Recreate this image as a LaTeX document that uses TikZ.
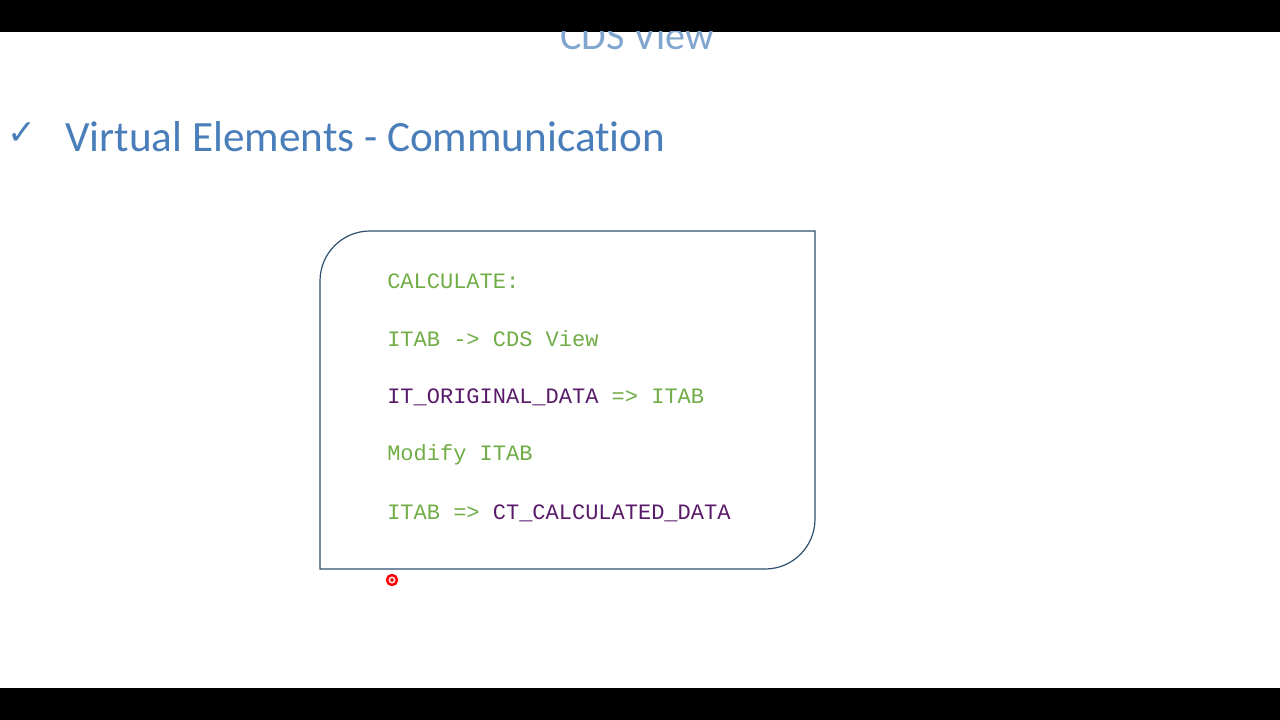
\documentclass[tikz,border=0pt]{standalone}
\usepackage{fontspec}
\setmainfont[Ligatures=NoCommon]{Carlito}
\newfontfamily\codefont{Liberation Mono}
\newfontfamily\symfont{DejaVu Sans}
\definecolor{titleblue}{HTML}{4A7EBB}
\definecolor{codegreen}{HTML}{70AD47}
\definecolor{codepurple}{HTML}{5A1A6A}
\definecolor{boxline}{HTML}{2F4F6F}
\begin{document}
\begin{tikzpicture}[x=0.75pt,y=-0.75pt,
  code/.style={anchor=west,inner sep=0pt,font=\codefont\fontsize{16.5}{18}\selectfont,text=codegreen}]
\useasboundingbox (0,0) rectangle (1280,720);
\fill[white] (0,0) rectangle (1280,720);
\fill[black] (0,0) rectangle (1280,32);
\fill[black] (0,688) rectangle (1280,720);
\begin{scope}
\clip (0,32) rectangle (1280,688);
\node[text=titleblue!70,font=\fontsize{30}{32}\selectfont] (cds) at (637,36) {CDS View};
\end{scope}
\node[text=titleblue,font=\symfont\fontsize{26}{28}\selectfont] (chk) at (22,134) {✓};
\node[anchor=west,inner sep=0pt,text=titleblue,font=\fontsize{32.4}{34}\selectfont] (title) at (65,137) {Virtual Elements - Communication};
\draw[boxline,line width=0.9pt] (370,231) -- (815,231) -- (815,519) to[out=270,in=0] (765,569) -- (320,569) -- (320,281) to[out=90,in=180] (370,231);
\node[code] (l1) at (387,281) {CALCULATE:};
\node[code] (l2) at (387,339) {ITAB -> CDS View};
\node[code] (l3) at (387,397) {\textcolor{codepurple}{IT\_ORIGINAL\_DATA} => ITAB};
\node[code] (l4) at (387,455) {Modify ITAB};
\node[code] (l5) at (387,513) {ITAB => \textcolor{codepurple}{CT\_CALCULATED\_DATA}};
\draw[red,line width=1.8pt,fill=red!15] (392,580) circle[radius=5];
\fill[red!80!black] (392,580) circle[radius=1.8];
\end{tikzpicture}
\end{document}
